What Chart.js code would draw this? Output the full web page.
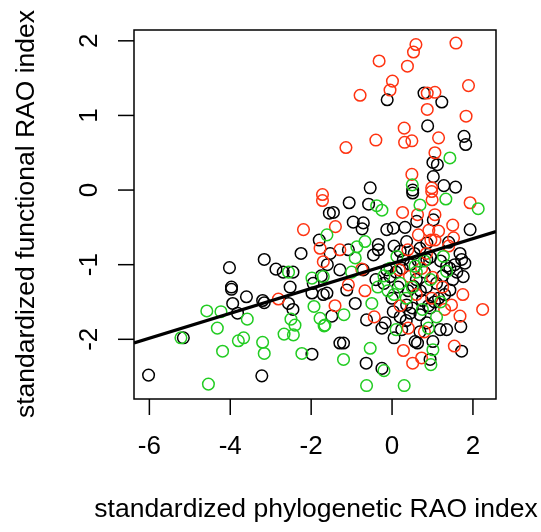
<!DOCTYPE html>
<html><head><meta charset="utf-8">
<script src="https://cdn.jsdelivr.net/npm/chart.js@4/dist/chart.umd.min.js"></script>
<style>html,body{margin:0;padding:0;background:#fff}#wrap{width:541px;height:532px}</style>
</head><body><div id="wrap"><canvas id="c" width="541" height="532"></canvas></div>
<script>
const xTicks = [-6, -4, -2, 0, 2];
const yTicks = [-2, -1, 0, 1, 2];
const xTitle = "standardized phylogenetic RAO index";
const yTitle = "standardized functional RAO index";
const lineIntercept = -0.984;
const lineSlope = 0.167;

const blackX = [-6.02,-5.16,-4.02,-3.97,-3.97,-3.60,-3.94,-3.82,-3.22,-3.20,-3.16,-3.16,-2.87,-2.69,-2.45,-2.52,-2.56,-2.45,-2.25,-1.98,-1.98,-1.80,-1.70,-1.55,-1.53,-1.61,-1.49,-1.45,-1.29,-1.29,-1.20,-1.12,-1.08,-1.06,-0.96,-0.91,-0.74,-0.71,-0.71,-0.64,-0.63,-0.58,-0.54,-0.46,-0.34,-0.34,-0.25,-0.25,-0.17,-0.13,-0.13,-0.12,-0.05,0.00,0.03,0.03,0.05,0.20,0.24,0.28,0.32,0.36,0.36,0.51,0.51,0.53,0.57,0.61,0.63,0.69,0.69,0.69,0.79,0.86,0.86,0.86,0.88,0.94,0.94,1.01,1.01,1.02,1.02,1.12,1.19,1.23,1.28,1.35,1.35,1.43,1.43,1.57,1.68,1.70,1.72,1.72,1.76,1.78,1.80,1.82,1.93,0.10,0.45,0.60,0.80,0.40,0.15,0.70,1.10,1.20,0.55,-0.20,1.05,1.30,0.90,0.45,1.50,-1.95,-1.75,-1.60,0.25,0.65,0.95,1.15,1.55,0.35,0.75,1.25,0.05,0.50,0.85,1.60,-0.40,1.40,0.20];
const blackY = [-2.48,-1.98,-1.04,-1.30,-1.33,-1.43,-1.52,-1.65,-2.49,-1.48,-1.51,-0.93,-1.06,-1.10,-1.10,-1.30,-1.52,-1.60,-0.85,-1.38,-2.20,-0.67,-1.40,-0.31,-0.85,-1.38,-1.69,-0.30,-1.07,-2.05,-2.05,-1.34,-0.80,-0.17,-0.43,-1.52,-0.52,-0.44,-1.07,-2.32,-1.74,-0.19,0.03,-0.87,-0.73,-0.80,-2.39,-1.85,-1.78,-0.53,-1.07,1.21,-1.16,-1.45,-0.51,-1.63,-1.98,-0.82,-1.87,-0.93,-0.50,-0.69,-1.54,0.00,-0.04,-1.29,-2.03,-0.42,-2.05,-0.78,-1.67,-1.90,1.30,-0.71,-0.93,-1.78,0.86,-1.58,-2.27,0.37,-2.03,0.18,-0.40,0.34,-1.87,1.18,0.06,-1.02,-1.87,-1.05,-1.34,0.04,-0.85,-1.83,-0.93,-2.16,-1.16,0.72,-0.98,0.61,-0.53,-1.10,-1.00,-1.20,-1.10,-1.35,-1.30,-1.35,-1.25,-0.95,-0.85,-1.25,-1.50,-1.40,-1.55,-1.65,-1.20,-1.25,-1.15,-1.00,-1.05,-0.95,-0.90,-1.45,-1.00,-1.75,-1.48,-1.15,-0.75,-1.58,-1.30,-1.10,-1.20,-0.70,-1.70];

const redX = [0.59,0.53,1.58,-0.32,0.38,0.01,-0.05,-0.79,1.89,0.87,1.06,0.87,1.83,0.30,-0.40,0.31,0.49,-1.14,1.15,1.06,0.49,0.98,-1.72,-1.72,0.98,0.99,0.26,1.93,-1.40,0.63,1.06,1.50,0.91,0.96,1.06,1.52,0.39,-0.75,0.18,0.73,1.00,0.43,-1.29,-1.08,-2.19,-1.78,-1.70,-2.81,2.24,1.68,1.47,1.54,0.28,0.51,0.73,-0.44,-1.41,0.98,-0.67,0.85,1.25,0.60,1.40,0.20,0.80,1.30,1.15,0.65,0.40,1.75];
const redY = [1.95,1.85,1.97,1.73,1.66,1.46,1.34,1.27,1.40,1.30,1.31,1.08,0.99,0.83,0.67,0.64,0.66,0.57,0.70,0.50,0.21,0.03,-0.06,-0.14,-0.02,-0.13,-0.30,-0.17,-0.49,-0.33,-0.33,-0.47,-0.54,-0.67,-0.67,-0.64,-0.80,-1.06,-1.07,-1.05,-1.17,-1.16,-0.80,-1.27,-0.53,-0.78,-0.96,-1.46,-1.60,-1.69,-1.54,-2.09,-2.15,-2.32,-2.25,-1.70,-1.55,-1.45,-1.35,-0.85,-1.30,-1.40,-0.75,-1.55,-1.90,-1.60,-0.55,-0.60,-1.85,-1.40];

const greenX = [1.43,0.50,1.33,2.13,0.69,-0.38,-0.25,-1.61,-0.67,-0.87,-0.91,0.12,0.57,1.27,1.35,-1.70,-1.98,-2.56,-4.58,-4.23,-4.32,-3.58,-5.22,-3.80,-3.67,-3.20,-4.19,-3.16,-4.54,-2.50,-2.40,-2.67,-2.44,-2.23,-1.93,-1.78,-1.68,-0.54,-1.20,-0.20,-0.63,0.30,0.96,1.01,0.10,-1.19,-1.66,-0.50,0.90,0.20,0.50,-0.10,0.05,0.35,0.75,1.10,-0.35,0.95,-1.00,-0.20,0.60,1.20,-0.05,0.80];
const greenY = [0.43,0.07,-0.12,-0.25,-0.20,-0.21,-0.27,-0.60,-0.69,-0.76,-0.91,-0.89,-1.02,-0.89,-1.09,-1.16,-1.18,-1.10,-1.62,-1.63,-1.85,-1.73,-1.98,-2.02,-1.98,-2.04,-2.16,-2.19,-2.60,-1.73,-1.81,-1.93,-1.94,-2.19,-1.56,-1.72,-1.82,-2.12,-2.27,-2.42,-2.62,-2.62,-2.34,-2.14,-1.87,-1.67,-1.81,-1.52,-1.85,-1.25,-1.30,-1.35,-1.40,-1.45,-1.60,-1.70,-1.30,-1.20,-1.10,-1.15,-1.10,-1.50,-1.05,-0.95];

const X_MIN = -6.38, X_MAX = 2.57, Y_MIN = -2.80, Y_MAX = 2.145;
const pts = (xs, ys) => xs.map((x, i) => ({x, y: ys[i]}));
const FONT = "'Liberation Sans', Arial, Helvetica, sans-serif";

const rAxes = {
  id: 'rAxes',
  afterDraw(chart) {
    const {ctx, chartArea: a, scales: {x, y}} = chart;
    ctx.save();
    ctx.strokeStyle = '#000';
    ctx.lineWidth = 1.5;
    ctx.strokeRect(a.left, a.top, a.right - a.left, a.bottom - a.top);
    ctx.fillStyle = '#000';
    ctx.font = '26px ' + FONT;
    ctx.textAlign = 'center';
    ctx.textBaseline = 'middle';
    xTicks.forEach(t => {
      const px = x.getPixelForValue(t);
      ctx.beginPath(); ctx.moveTo(px, a.bottom); ctx.lineTo(px, a.bottom + 16); ctx.stroke();
      ctx.fillText(String(t), px, a.bottom + 48);
    });
    yTicks.forEach(t => {
      const py = y.getPixelForValue(t);
      ctx.beginPath(); ctx.moveTo(a.left, py); ctx.lineTo(a.left - 16, py); ctx.stroke();
      ctx.save(); ctx.translate(a.left - 44, py); ctx.rotate(-Math.PI / 2);
      ctx.fillText(String(t), 0, 0); ctx.restore();
    });
    ctx.font = '26.5px ' + FONT;
    ctx.fillText(xTitle, 316, 510);
    ctx.save(); ctx.translate(27, 214); ctx.rotate(-Math.PI / 2);
    ctx.fillText(yTitle, 0, 0); ctx.restore();
    ctx.restore();
  }
};

const ptStyle = (c) => ({
  pointStyle: 'circle', pointRadius: 5.8, pointHoverRadius: 5.8,
  borderColor: c, pointBorderColor: c, pointBackgroundColor: 'rgba(0,0,0,0)',
  backgroundColor: 'rgba(0,0,0,0)', pointBorderWidth: 1.5, showLine: false
});

new Chart(document.getElementById('c'), {
  type: 'scatter',
  data: {
    datasets: [
      Object.assign({label: 'black', data: pts(blackX, blackY), order: 3}, ptStyle('#000000')),
      Object.assign({label: 'red', data: pts(redX, redY), order: 2}, ptStyle('#ff3311')),
      Object.assign({label: 'green', data: pts(greenX, greenY), order: 1}, ptStyle('#22cc22')),
      {label: 'fit', type: 'line', order: 0,
       data: [{x: X_MIN, y: lineIntercept + lineSlope * X_MIN}, {x: X_MAX, y: lineIntercept + lineSlope * X_MAX}],
       borderColor: '#000', borderWidth: 3.2, pointRadius: 0, fill: false, tension: 0}
    ]
  },
  options: {
    responsive: false, animation: false, devicePixelRatio: 1,
    layout: {padding: {left: 134, top: 30, right: 45, bottom: 133}},
    plugins: {legend: {display: false}, tooltip: {enabled: false}},
    scales: {
      x: {type: 'linear', display: false, min: X_MIN, max: X_MAX},
      y: {type: 'linear', display: false, min: Y_MIN, max: Y_MAX}
    }
  },
  plugins: [rAxes]
});
</script></body></html>
